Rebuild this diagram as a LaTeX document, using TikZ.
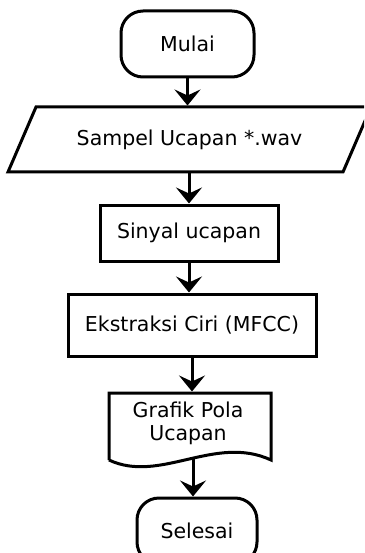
\documentclass[tikz,border=0pt]{standalone}
\usepackage{fontspec}
\setmainfont{DejaVu Sans}
\usetikzlibrary{arrows.meta}
\begin{document}
\begin{tikzpicture}[x=1pt,y=-1pt,
  every node/.style={font=\fontsize{20.5}{24}\selectfont, inner sep=0pt, line width=3pt},
  term/.style={draw, rectangle, rounded corners=22pt, minimum height=66pt},
  proc/.style={draw, rectangle},
  flow/.style={line width=3pt, -{Stealth[length=16pt,width=26pt,inset=6pt]}},
  shapeline/.style={line width=3pt}]
\useasboundingbox (0,0) rectangle (364,553);
\clip (0,0) rectangle (364,553);
\node[term, minimum width=133pt] (start) at (187.5,44) {Mulai};
\draw[shapeline] (8,172) -- (36,107) -- (371,107) -- (343,172) -- cycle;
\node[minimum width=300pt, minimum height=65pt] (input) at (189.5,139.5) {Sampel Ucapan *.wav};
\node[proc, minimum width=178pt, minimum height=56pt] (sinyal) at (189,233) {Sinyal ucapan};
\node[proc, minimum width=248pt, minimum height=62pt] (mfcc) at (192,325) {Ekstraksi Ciri (MFCC)};
\draw[shapeline, line join=miter] (109,460) -- (109,393) -- (271,393) -- (271,460)
  .. controls (215,434) and (160,484) .. (109,460);
\node[align=center, minimum width=162pt, minimum height=60pt] (doc) at (188,423) {Grafik Pola\\[-1pt]Ucapan};
\coordinate (docout) at (193,459);
\node[term, minimum width=120pt] (end) at (197,531) {Selesai};
\draw[flow] (start.south) -- (start.south |- input.north);
\draw[flow] (input.south -| sinyal.north) -- (sinyal.north);
\draw[flow] (sinyal.south) -- (sinyal.south |- mfcc.north);
\draw[flow] (mfcc.south) -- (mfcc.south |- doc.north);
\draw[flow] (docout) -- (docout |- end.north);
\end{tikzpicture}
\end{document}
